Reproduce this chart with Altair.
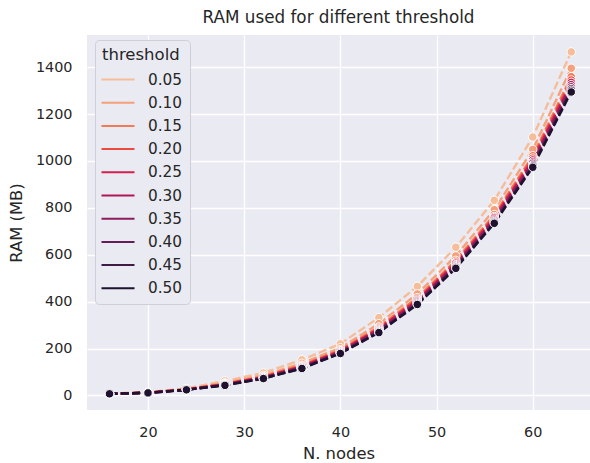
import altair as alt
import pandas as pd

nodes = [16, 20, 24, 28, 32, 36, 40, 44, 48, 52, 56, 60, 64]
thresholds = ["0.05", "0.10", "0.15", "0.20", "0.25", "0.30", "0.35", "0.40", "0.45", "0.50"]

ram_005 = [8, 14, 30, 62, 96, 152, 220, 332, 465, 632, 832, 1102, 1465]
ram_010 = [8, 13, 28, 54, 86, 137, 203, 306, 433, 595, 792, 1049, 1395]
ram_015 = [7, 12, 26, 50, 81, 129, 195, 292, 417, 576, 771, 1022, 1359]
ram_020 = [7, 12, 26, 49, 79, 126, 191, 287, 411, 569, 763, 1012, 1345]
ram_025 = [7, 12, 25, 48, 78, 124, 189, 283, 406, 564, 758, 1004, 1335]
ram_030 = [7, 12, 25, 46, 76, 122, 186, 280, 402, 558, 752, 996, 1325]
ram_035 = [7, 11, 25, 45, 75, 120, 184, 276, 398, 554, 747, 990, 1316]
ram_040 = [7, 11, 24, 45, 74, 118, 182, 273, 394, 549, 742, 983, 1308]
ram_045 = [7, 11, 24, 44, 73, 116, 181, 271, 391, 546, 738, 978, 1301]
ram_050 = [7, 11, 24, 43, 72, 115, 179, 268, 388, 542, 734, 973, 1294]

series = [ram_005, ram_010, ram_015, ram_020, ram_025,
          ram_030, ram_035, ram_040, ram_045, ram_050]

palette = ["#f6bd9a", "#f5a07a", "#f37a56", "#ec4a3f", "#d3214f",
           "#af175b", "#8a1e5c", "#651e55", "#3f1a45", "#1e1230"]

rows = []
for i, (t, vals) in enumerate(zip(thresholds, series)):
    for n, v in zip(nodes, vals):
        rows.append({"threshold": t, "nodes": n, "ram": v, "ord": i})
df = pd.DataFrame(rows)

FONT = "DejaVu Sans"
TXT = "#262626"

x = alt.X("nodes:Q", title="N. nodes",
          scale=alt.Scale(domain=[13.66, 65.95], nice=False, zero=False),
          axis=alt.Axis(values=[20, 30, 40, 50, 60], format="d", labelFontSize=14.4,
                        labelBaseline="middle", labelPadding=22,
                        titleFontSize=16.4, titleY=43, titleBaseline="middle"))
y = alt.Y("ram:Q", title="RAM (MB)",
          scale=alt.Scale(domain=[-62, 1537], nice=False, zero=False),
          axis=alt.Axis(values=[0, 200, 400, 600, 800, 1000, 1200, 1400],
                        format="d", labelFontSize=14.4, labelPadding=15,
                        titleFontSize=16.4, titleX=-71, titleY=187.5,
                        titleBaseline="middle", titleAngle=-90))

color_scale = alt.Scale(domain=thresholds, range=palette)

legend = alt.Legend(
    title="threshold", orient="none", legendX=8, legendY=5,
    titleFontSize=16.5, titleFont=FONT, titleColor=TXT, titleFontWeight="normal",
    titlePadding=4,
    labelFontSize=15.3, labelFont=FONT, labelColor=TXT, labelOffset=18,
    symbolType="M-1.5,0H1.5", symbolSize=484, symbolStrokeWidth=2,
    symbolDash=[1, 0], symbolOffset=4,
    padding=7, rowPadding=2.2,
    fillColor="#eaeaf2", strokeColor="#cfcfd8", cornerRadius=4,
)

lines = alt.Chart(df).mark_line(strokeWidth=2.4, strokeDash=[8, 3.3]).encode(
    x=x, y=y,
    color=alt.Color("threshold:N", scale=color_scale, legend=legend,
                    sort=thresholds),
    detail="threshold:N",
)

points = alt.Chart(df).mark_circle(size=72, opacity=1, stroke="white",
                                    strokeWidth=1).encode(
    x=x, y=y,
    color=alt.Color("threshold:N", scale=color_scale, legend=None,
                    sort=thresholds),
    order=alt.Order("ord:Q"),
)

chart = alt.layer(lines, points).properties(
    width=503, height=375,
    padding={"left": 87, "top": 35, "right": 0, "bottom": 53},
    autosize=alt.AutoSizeParams(type="none"),
    title=alt.TitleParams("RAM used for different threshold", fontSize=16.8,
                          font=FONT, color=TXT, fontWeight="normal",
                          anchor="middle", frame="group", offset=8),
    background="white",
).configure_view(
    fill="#eaeaf2", stroke=None
).configure_axis(
    grid=True, gridColor="white", gridWidth=1.3, domain=False, ticks=False,
    labelFont=FONT, titleFont=FONT, labelColor=TXT, titleColor=TXT,
    titleFontWeight="normal",
)

chart.save("out.html", embed_options={"renderer": "svg", "actions": False})
